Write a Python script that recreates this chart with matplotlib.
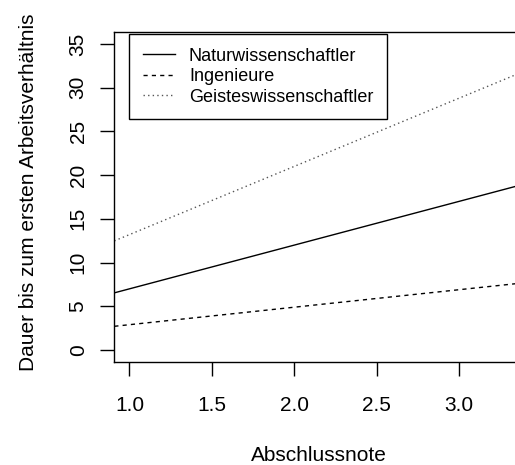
import matplotlib
matplotlib.use("Agg")
import matplotlib.pyplot as plt

plt.rcParams['font.family'] = ['Liberation Sans', 'DejaVu Sans']

# Data: straight lines  Dauer = intercept + slope * Abschlussnote
groups = ["Naturwissenschaftler", "Ingenieure", "Geisteswissenschaftler"]
intercepts = [2.0, 0.9, 5.4]
slopes = [5.0, 2.0, 7.8]
linestyles = ["-", (0, (3, 3)), (0, (1, 2.3))]
colors = ["black", "black", "#555555"]

x_ticks = [1.0, 1.5, 2.0, 2.5, 3.0]
x_ticklabels = ["1.0", "1.5", "2.0", "2.5", "3.0"]
y_ticks = [0, 5, 10, 15, 20, 25, 30, 35]
y_ticklabels = ["0", "5", "10", "15", "20", "25", "30", "35"]

W, H = 515, 465
fig = plt.figure(figsize=(W / 100, H / 100), dpi=100)
left_px, right_px, top_px, bottom_px = 114.3, 523.7, 31.7, 362.3
ax = fig.add_axes([left_px / W, 1 - bottom_px / H,
                   (right_px - left_px) / W, (bottom_px - top_px) / H])

for name, b, m, ls, c in zip(groups, intercepts, slopes, linestyles, colors):
    ax.axline((0, b), slope=m, color=c, linestyle=ls, linewidth=1.0, label=name)

ax.set_xlim(0.908, 3.392)
ax.set_ylim(-1.4, 36.4)
ax.set_xticks(x_ticks)
ax.set_xticklabels(x_ticklabels)
ax.set_yticks(y_ticks)
ax.set_yticklabels(y_ticklabels)

for s in ax.spines.values():
    s.set_linewidth(1.0)
    s.set_color("black")

ax.tick_params(axis='both', direction='out', length=10, width=1.0,
               colors='black', labelsize=15)
ax.tick_params(axis='x', pad=14.5)
ax.tick_params(axis='y', pad=9.2, labelrotation=90)
for lab in ax.get_yticklabels():
    lab.set_verticalalignment('center')

ax.set_xlabel("Abschlussnote", fontsize=15)
ax.set_ylabel("Dauer bis zum ersten Arbeitsverhältnis", fontsize=15)
ax.xaxis.set_label_coords(0.5, (bottom_px - 446) / (bottom_px - top_px))
ax.yaxis.set_label_coords((37.6 - left_px) / (right_px - left_px), 0.515)

leg = ax.legend(loc='upper left',
                bbox_to_anchor=((129.3 - left_px) / (right_px - left_px),
                                (bottom_px - 34) / (bottom_px - top_px)),
                borderaxespad=0, fontsize=13, fancybox=False,
                edgecolor='black', framealpha=1, handlelength=1.8,
                handletextpad=0.75, labelspacing=0.2, borderpad=0.75)
leg.get_frame().set_linewidth(1.0)

fig.savefig("out.png", dpi=100)
